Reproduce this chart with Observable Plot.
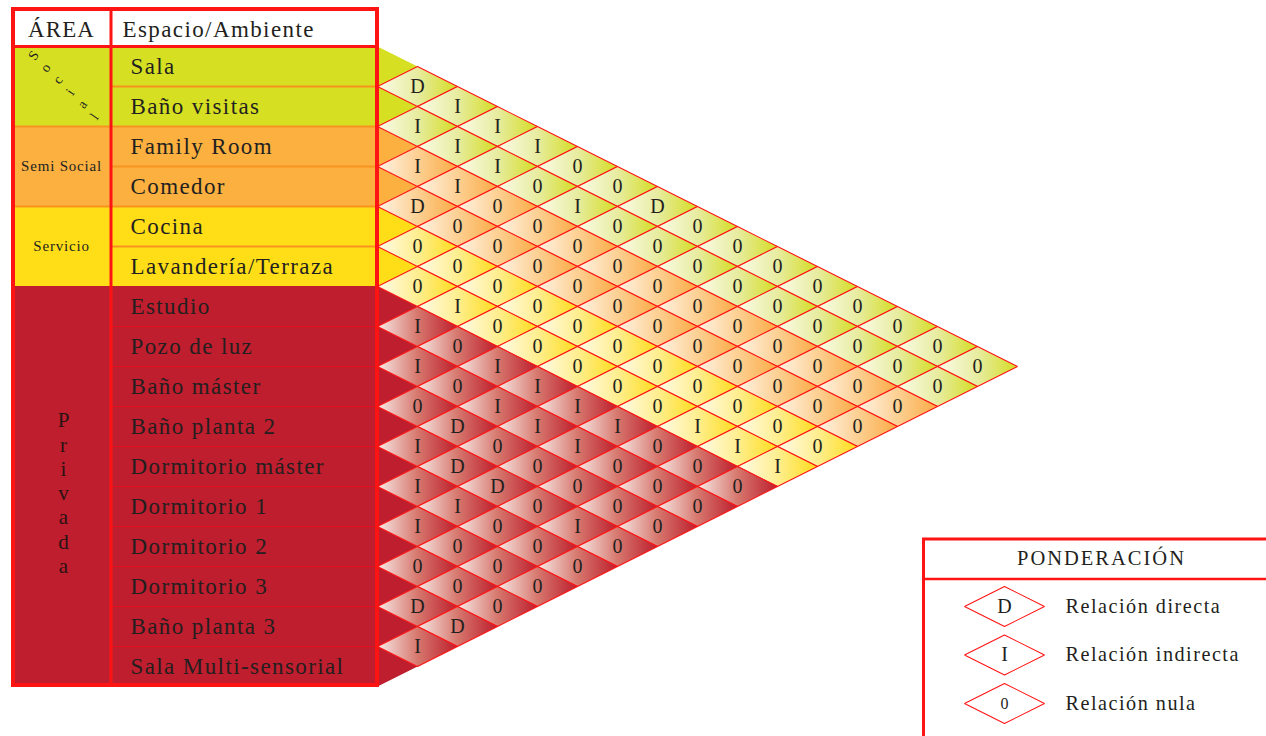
<!DOCTYPE html>
<html>
<head>
<meta charset="utf-8">
<script src="https://cdn.jsdelivr.net/npm/d3@7"></script>
<script src="https://cdn.jsdelivr.net/npm/@observablehq/plot@0.6"></script>
<style>
  body { margin: 0; background: #fff; }
  #chart { position: relative; width: 1266px; height: 736px; overflow: hidden; }
  #chart svg { position: absolute; left: 0; top: 0; }
  g[font-size="23"] text { letter-spacing: 1.4px; }
  g[font-size="22.9"] text { letter-spacing: 1.2px; }
  g[font-size="15"] text { letter-spacing: 0.8px; }
  g[font-size="20.5"] text { letter-spacing: 2px; }
  g[font-size="20.2"] text { letter-spacing: 1.5px; }
</style>
</head>
<body>
<div id="chart"></div>
<script>
// ---------------- DATA ----------------
const headers = ["ÁREA", "Espacio/Ambiente"];
const areas = ["Social", "Semi Social", "Servicio", "Privada"];
const spaces = [
  "Sala", "Baño visitas", "Family Room", "Comedor", "Cocina", "Lavandería/Terraza",
  "Estudio", "Pozo de luz", "Baño máster", "Baño planta 2", "Dormitorio máster",
  "Dormitorio 1", "Dormitorio 2", "Dormitorio 3", "Baño planta 3", "Sala Multi-sensorial"
];
const spaceArea = [
  "Social", "Social", "Semi Social", "Semi Social", "Servicio", "Servicio",
  "Privada", "Privada", "Privada", "Privada", "Privada",
  "Privada", "Privada", "Privada", "Privada", "Privada"
];
// relations[i][t] = relation between spaces[i] and spaces[i+1+t]
const relations = [
  "DIII00D00000000",
  "III0I000000000",
  "II00000000000",
  "D00000000000",
  "00000000000",
  "0I00000III",
  "I0IIII000",
  "I0III000",
  "0D00000",
  "IDD0I0",
  "II000",
  "I000",
  "000",
  "DD",
  "I"
];
const legendTitle = "PONDERACIÓN";
const legendCodes = ["D", "I", "0"];
const legendLabels = ["Relación directa", "Relación indirecta", "Relación nula"];

// ---------------- STYLE ----------------
const FONT = "'Liberation Serif', 'Times New Roman', serif";
const INK = "#231f20";
const RED = "#ff1414";
const ORANGE_LINE = "#f7931e";
const areaColor = { "Social": "#d7df23", "Semi Social": "#fbb040", "Servicio": "#ffde17", "Privada": "#be1e2d" };
const gradStops = {
  "Social":      ["#fbfce8", "#e7eca0", "#d4dd22"],
  "Semi Social": ["#fef3e6", "#fdd093", "#fbab45"],
  "Servicio":    ["#fffbe8", "#ffee90", "#ffdd1a"],
  "Privada":     ["#f8e9e6", "#d6786e", "#be1e2d"]
};
const gradId = a => "grad-" + areas.indexOf(a);

// layout helpers (pixel -> scale units); x: 40px per unit, y: 20px per unit
const pxX = v => (v - 377) / 40;
const pxY = v => (v - 46) / 20 - 1;

// ---------------- DERIVED TABLES ----------------
const pairs = [];
relations.forEach((row, i) => row.split("").forEach((code, t) => {
  const j = i + 1 + t;
  pairs.push({ id: pairs.length, i, j, code, d: j - i, s: i + j, area: spaceArea[i] });
}));
const diamondShape = [[-1, 0], [0, -1], [1, 0], [0, 1]];
const diamondPts = pairs.flatMap(p => diamondShape.map(([dx, ds]) => ({ id: p.id, area: p.area, x: p.d + dx, y: p.s + ds })));
const triShape = [[0, -1], [1, 0], [0, 1]];
const triPts = spaces.flatMap((name, k) => triShape.map(([dx, ds]) => ({ id: k, area: spaceArea[k], x: dx, y: 2 * k + ds })));

const rows = spaces.map((name, k) => ({ name, k, area: spaceArea[k] }));
const areaSpans = areas.map(a => {
  const idx = rows.filter(r => r.area === a).map(r => r.k);
  return { area: a, first: idx[0], last: idx[idx.length - 1] };
});
const separators = rows.slice(0, -1).map(r => ({ k: r.k, area: r.area, boundary: spaceArea[r.k + 1] !== r.area }));

const legendRows = legendCodes.map((code, n) => ({ code, label: legendLabels[n], n }));
const legendCy = n => pxY(606 + n * 48.5);
const legendPts = legendRows.flatMap(r => diamondShape.map(([dx, ds]) => ({ id: r.n, x: pxX(1004) + dx, y: legendCy(r.n) + ds })));

const socialLetters = areas[0].split("").map((ch, n) => ({ ch, n }));
const privadaLetters = areas[3].split("").map((ch, n) => ({ ch, n }));

// ---------------- PLOT ----------------
const marks = [];

// table backgrounds
marks.push(Plot.rect([0], { x1: pxX(12), x2: 0, y1: pxY(8), y2: -1, fill: "white" }));
for (const a of areas) {
  marks.push(Plot.rect(rows.filter(r => r.area === a), {
    x1: pxX(110), x2: 0, y1: r => 2 * r.k - 1, y2: r => 2 * r.k + 1, fill: areaColor[a]
  }));
  marks.push(Plot.rect(areaSpans.filter(s => s.area === a), {
    x1: pxX(12), x2: pxX(110), y1: s => 2 * s.first - 1, y2: s => 2 * s.last + 1, fill: areaColor[a]
  }));
}
// row separators
marks.push(Plot.ruleY(separators.filter(s => s.area !== "Privada" && !s.boundary), {
  y: s => 2 * s.k + 1, x1: pxX(110), x2: 0, stroke: ORANGE_LINE, strokeWidth: 2
}));
marks.push(Plot.ruleY(separators.filter(s => s.boundary && s.area !== "Servicio"), {
  y: s => 2 * s.k + 1, x1: pxX(12), x2: 0, stroke: ORANGE_LINE, strokeWidth: 2
}));
marks.push(Plot.ruleY(separators.filter(s => s.area === "Privada"), {
  y: s => 2 * s.k + 1, x1: pxX(110), x2: 0, stroke: "#e4101c", strokeWidth: 1.2
}));

// left triangles (solid area colour)
for (const a of areas) {
  marks.push(Plot.line(triPts.filter(p => p.area === a), {
    x: "x", y: "y", z: "id", fill: areaColor[a], stroke: "none", curve: "linear-closed"
  }));
}
// diamonds
for (const a of areas) {
  marks.push(Plot.line(diamondPts.filter(p => p.area === a), {
    x: "x", y: "y", z: "id", fill: `url(#${gradId(a)})`, stroke: RED, strokeWidth: 1.1,
    curve: "linear-closed", strokeLinejoin: "miter"
  }));
}
// diamond letters
marks.push(Plot.text(pairs, {
  x: "d", y: "s", text: "code", fontFamily: FONT, fontSize: 20, fill: INK
}));

// table lines
marks.push(Plot.ruleX([pxX(110.5)], { y1: pxY(8), y2: 31, stroke: RED, strokeWidth: 3 }));
marks.push(Plot.ruleY([-1], { x1: pxX(12), x2: 0, stroke: RED, strokeWidth: 3 }));
marks.push(Plot.rect([0], {
  x1: pxX(13), x2: pxX(377), y1: pxY(9), y2: pxY(685), fill: "none", stroke: RED, strokeWidth: 4
}));

// table texts
marks.push(Plot.text(headers.slice(0, 1), {
  x: pxX(61), y: pxY(29), text: d => d, textAnchor: "middle",
  fontFamily: FONT, fontSize: 22.9, fill: INK
}));
marks.push(Plot.text(headers.slice(1), {
  x: pxX(122), y: pxY(29), text: d => d, textAnchor: "start",
  fontFamily: FONT, fontSize: 23, fill: INK
}));
marks.push(Plot.text(rows, {
  x: pxX(130), y: r => 2 * r.k, text: "name", textAnchor: "start",
  fontFamily: FONT, fontSize: 23, fill: INK
}));
marks.push(Plot.text(areaSpans.filter(s => s.area === "Semi Social" || s.area === "Servicio"), {
  x: pxX(61), y: s => s.first + s.last, text: "area", fontFamily: FONT, fontSize: 15, fill: INK
}));
marks.push(Plot.text(socialLetters, {
  x: l => pxX(33 + l.n * 12.2), y: l => pxY(55 + l.n * 12.2), text: "ch",
  rotate: -55, fontFamily: FONT, fontSize: 14, fill: INK
}));
marks.push(Plot.text(privadaLetters, {
  x: pxX(63), y: l => pxY(420 + l.n * 24.3), text: "ch",
  fontFamily: FONT, fontSize: 21, fill: "#2a1214"
}));

// legend
marks.push(Plot.rect([0], {
  x1: pxX(923.5), x2: pxX(1320), y1: pxY(539), y2: pxY(800), fill: "white", stroke: RED, strokeWidth: 3
}));
marks.push(Plot.ruleY([pxY(578.5)], { x1: pxX(922), x2: pxX(1320), stroke: RED, strokeWidth: 2.5 }));
marks.push(Plot.text([legendTitle], {
  x: pxX(1101), y: pxY(558), text: d => d, fontFamily: FONT, fontSize: 20.5, fill: INK
}));
marks.push(Plot.line(legendPts, {
  x: "x", y: "y", z: "id", fill: "white", stroke: RED, strokeWidth: 1.1, curve: "linear-closed", strokeLinejoin: "miter"
}));
marks.push(Plot.text(legendRows, {
  x: pxX(1004), y: r => legendCy(r.n), text: "code",
  fontFamily: FONT, fontSize: r => r.code === "0" ? 16 : 20, fill: INK
}));
marks.push(Plot.text(legendRows, {
  x: pxX(1065), y: r => legendCy(r.n), text: "label", textAnchor: "start",
  fontFamily: FONT, fontSize: 20.2, fill: INK
}));

const chart = Plot.plot({
  width: 1266,
  height: 736,
  margin: 0,
  x: { domain: [0, 16], range: [377, 1017], axis: null },
  y: { domain: [-1, 31], range: [46, 686], axis: null },
  style: { background: "transparent", overflow: "visible" },
  marks
});

const svgEl = chart.tagName.toLowerCase() === "svg" ? chart : chart.querySelector("svg");
const defs = d3.select(svgEl).insert("defs", ":first-child");
for (const a of areas) {
  const g = defs.append("linearGradient").attr("id", gradId(a))
    .attr("x1", "0").attr("y1", "0").attr("x2", "1").attr("y2", "0");
  const st = gradStops[a];
  g.append("stop").attr("offset", "0").attr("stop-color", st[0]);
  g.append("stop").attr("offset", "0.5").attr("stop-color", st[1]);
  g.append("stop").attr("offset", "1").attr("stop-color", st[2]);
}
document.getElementById("chart").appendChild(chart);
</script>
</body>
</html>
